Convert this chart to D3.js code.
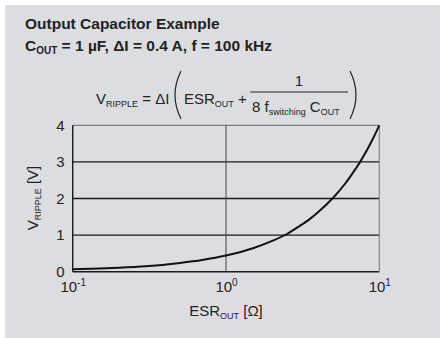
<!DOCTYPE html>
<html><head><meta charset="utf-8">
<script src="https://cdn.jsdelivr.net/npm/d3@7"></script>
<style>
html,body{margin:0;padding:0;background:#fff;}
svg text{font-family:"Liberation Sans",Arial,Helvetica,sans-serif;fill:#222;}
</style></head>
<body><svg id="c" width="440" height="338"></svg>
<script>
// ---- data ----
const esrValues = [0.1, 0.15, 0.2, 0.3, 0.5, 0.7, 1, 1.5, 2, 2.5, 3, 3.5, 4, 5, 6, 7, 7.5, 8, 9, 10];
const rippleValues = [0.07, 0.09, 0.11, 0.15, 0.24, 0.32, 0.44, 0.64, 0.84, 1.03, 1.24, 1.43, 1.63, 2.02, 2.41, 2.81, 3.0, 3.2, 3.6, 4.0];
const xTicks = [0.1, 1, 10];
const xTickExp = ["-1", "0", "1"];
const yTicks = [0, 1, 2, 3, 4];

const svg = d3.select("#c");
svg.append("rect").attr("x",5).attr("y",5).attr("width",435).attr("height",333).attr("fill","#dcdde0");

// titles
svg.append("text").attr("x",25).attr("y",29).attr("font-size",15.5).attr("font-weight","bold").text("Output Capacitor Example");
const t2 = svg.append("text").attr("x",25).attr("y",51).attr("font-size",15.5).attr("font-weight","bold");
t2.append("tspan").text("C");
t2.append("tspan").attr("font-size",10).attr("dy",3).text("OUT");
t2.append("tspan").attr("dy",-3).text(" = 1 \u00B5F, \u0394I = 0.4 A, f = 100 kHz");

// formula
const f1 = svg.append("text").attr("x",96).attr("y",104).attr("font-size",15);
f1.append("tspan").text("V");
f1.append("tspan").attr("font-size",9).attr("dy",3).text("RIPPLE");
f1.append("tspan").attr("dy",-3).text(" = \u0394I");
const f2 = svg.append("text").attr("x",184).attr("y",104).attr("font-size",15);
f2.append("tspan").text("ESR");
f2.append("tspan").attr("font-size",9).attr("dy",3).text("OUT");
f2.append("tspan").attr("dy",-3).text(" +");
svg.append("text").attr("x",299).attr("y",86).attr("font-size",15).attr("text-anchor","middle").text("1");
svg.append("line").attr("x1",250).attr("x2",348).attr("y1",92).attr("y2",92).attr("stroke","#222").attr("stroke-width",1);
const f3 = svg.append("text").attr("x",252).attr("y",112).attr("font-size",15);
f3.append("tspan").text("8 f");
f3.append("tspan").attr("font-size",9).attr("dy",3).text("switching");
f3.append("tspan").attr("dy",-3).text(" C");
f3.append("tspan").attr("font-size",9).attr("dy",3).text("OUT");
// parentheses
svg.append("path").attr("d","M181,71 Q169,95 181,119").attr("fill","none").attr("stroke","#222").attr("stroke-width",1.2);
svg.append("path").attr("d","M350,71 Q362,95 350,119").attr("fill","none").attr("stroke","#222").attr("stroke-width",1.2);

// scales
const x = d3.scaleLog().domain([0.1,10]).range([72.7,379.3]);
const y = d3.scaleLinear().domain([0,4]).range([271.7,125.3]);

// grid
const g = svg.append("g");
g.selectAll("line.h").data(yTicks).join("line")
  .attr("x1",x(0.1)).attr("x2",x(10)).attr("y1",d=>y(d)).attr("y2",d=>y(d))
  .attr("stroke",d=>d===4?"#666":"#1a1a1a").attr("stroke-width",d=>d===4?1:1.4);
g.selectAll("line.v").data(xTicks).join("line")
  .attr("x1",d=>x(d)).attr("x2",d=>x(d)).attr("y1",y(0)).attr("y2",y(4))
  .attr("stroke",(d,i)=>i===0?"#1a1a1a":(i===2?"#777":"#444")).attr("stroke-width",(d,i)=>i===0?1.4:1);

// curve
const line = d3.line().x((d,i)=>x(esrValues[i])).y(d=>y(d)).curve(d3.curveMonotoneX);
svg.append("path").attr("d",line(rippleValues)).attr("fill","none").attr("stroke","#111").attr("stroke-width",2);

// axes
const ya = svg.append("g").attr("transform",`translate(${x(0.1)},0)`)
  .call(d3.axisLeft(y).tickValues(yTicks).tickSize(0).tickPadding(8).tickFormat(d3.format("d")));
ya.select(".domain").remove();
ya.selectAll("text").attr("font-size",15).attr("fill","#222").attr("font-family","Liberation Sans, Arial, sans-serif");

const xa = svg.append("g").attr("transform",`translate(0,${y(0)})`)
  .call(d3.axisBottom(x).tickValues(xTicks).tickSize(0).tickPadding(10).tickFormat(()=>""));
xa.select(".domain").remove();
xa.selectAll("text").each(function(d,i){
  const t = d3.select(this).attr("font-size",15).attr("fill","#222").attr("font-family","Liberation Sans, Arial, sans-serif");
  t.append("tspan").text("10");
  t.append("tspan").attr("font-size",10).attr("dy",-6).text(xTickExp[i]);
});

// axis titles
const xt = svg.append("text").attr("x",226).attr("y",316).attr("text-anchor","middle").attr("font-size",15);
xt.append("tspan").text("ESR");
xt.append("tspan").attr("font-size",9).attr("dy",3).text("OUT");
xt.append("tspan").attr("dy",-3).text(" [\u03A9]");
const yt = svg.append("text").attr("transform","translate(38,198) rotate(-90)").attr("text-anchor","middle").attr("font-size",15);
yt.append("tspan").text("V");
yt.append("tspan").attr("font-size",9).attr("dy",3).text("RIPPLE");
yt.append("tspan").attr("dy",-3).text(" [V]");
</script></body></html>
